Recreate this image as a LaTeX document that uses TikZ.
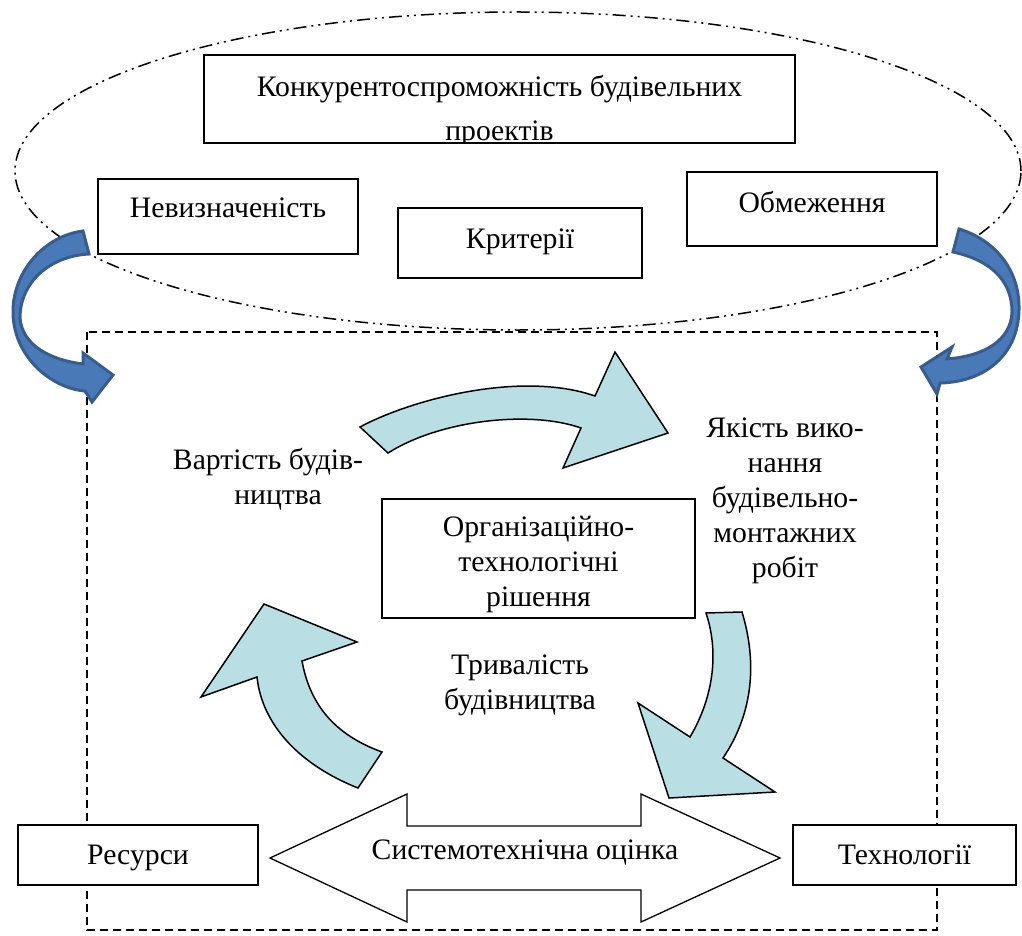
\documentclass[tikz,border=0pt]{standalone}
\usepackage{fontspec}
\setmainfont{Liberation Serif}
\definecolor{aqua}{RGB}{185,223,228}
\definecolor{bluefill}{RGB}{74,121,183}
\definecolor{blueline}{RGB}{56,93,140}
\begin{document}
\begin{tikzpicture}[x=1pt,y=-1pt,
  box/.style={draw, line width=1.5pt, fill=white, inner sep=0pt},
  txt/.style={font=\fontsize{29.7}{35}\selectfont, inner sep=0pt, anchor=base},
  aq/.style={draw, line width=1.5pt, fill=aqua, line join=miter},
  bl/.style={draw=blueline, line width=3pt, fill=bluefill, line join=miter},
  dbl/.style={draw, line width=1.3pt, fill=white, line join=miter}]
\useasboundingbox (0,0) rectangle (1022,936);
% ellipse and dashed frame
\draw[line width=1.5pt, dash pattern=on 13pt off 5pt on 2pt off 5pt on 2pt off 5pt] (518,171) ellipse [x radius=503pt, y radius=159pt];
\draw[line width=1.5pt, dash pattern=on 8pt off 5pt] (87,332) rectangle (937,930);
% top title box (text clipped by the box)
\begin{scope}
\clip (204,55) rectangle (795,143);
\node[txt] (k1) at (499.5,97) {Конкурентоспроможність будівельних};
\node[txt] (k2) at (499.5,141) {проектів};
\end{scope}
\node[draw, line width=1.5pt, inner sep=0pt, minimum width=591pt, minimum height=88pt] (konk) at (499.5,99) {};
% boxes
\node[box, minimum width=260pt, minimum height=75pt] (nev) at (228,216.5) {};
\node[txt] (nevt) at (228,218) {Невизначеність};
\node[box, minimum width=244pt, minimum height=70pt] (krit) at (520,243) {};
\node[txt] (kritt) at (520,248) {Критерії};
\node[box, minimum width=250pt, minimum height=74pt] (obm) at (812,209) {};
\node[txt] (obmt) at (812,212) {Обмеження};
\node[box, minimum width=313pt, minimum height=119pt] (org) at (538.5,558.5) {};
\node[txt] (o1) at (538.5,536) {Організаційно-};
\node[txt] (o2) at (538.5,571) {технологічні};
\node[txt] (o3) at (538.5,606) {рішення};
\node[box, minimum width=240pt, minimum height=60pt] (res) at (138,855) {};
\node[txt] (rest) at (138,864) {Ресурси};
\node[box, minimum width=223pt, minimum height=60pt] (tech) at (904.5,855) {};
\node[txt] (techt) at (904.5,864) {Технології};
% free texts
\node[txt] (v1) at (268,469) {Вартість будів-};
\node[txt] (v2) at (278,504) {ництва};
\node[txt] (j1) at (785,437) {Якість вико-};
\node[txt] (j2) at (785,472) {нання};
\node[txt] (j3) at (785,507) {будівельно-};
\node[txt] (j4) at (785,542) {монтажних};
\node[txt] (j5) at (785,577) {робіт};
\node[txt] (t1) at (520,674) {Тривалість};
\node[txt] (t2) at (520,709) {будівництва};
% double arrow
\draw[dbl] (270,858) -- (407,794) -- (407,826) -- (641,826) -- (641,794) -- (780,858)
  -- (641,922) -- (641,890) -- (407,890) -- (407,922) -- cycle;
\node[txt] (so) at (525,859) {Системотехнічна оцінка};
% light-blue curved arrows
\draw[aq] (360,427) .. controls (410,400) and (520,370) .. (595,396) -- (615,352) -- (668,433)
  -- (563,468) -- (581,428) .. controls (530,410) and (440,420) .. (388,453) -- cycle;
\draw[aq] (264,604) -- (357,642) -- (302,661) .. controls (310,705) and (335,735) .. (382,752)
  -- (358,788) .. controls (300,765) and (262,725) .. (257,677) -- (201,697) -- cycle;
\draw[aq] (706,613) -- (742,612) .. controls (758,665) and (752,715) .. (723,758) -- (775,792)
  -- (669,798) -- (638,703) -- (690,737) .. controls (712,700) and (720,655) .. (706,613) -- cycle;
% dark-blue curved arrows
\draw[bl] (83,231) .. controls (45,236) and (14,270) .. (13,310) .. controls (12,355) and (50,388) .. (85,391)
  -- (92,402) -- (113,375) -- (83,353) -- (83,364) .. controls (50,360) and (22,345) .. (20,318)
  .. controls (20,282) and (50,256) .. (89,254) -- cycle;
\draw[bl] (959,229) .. controls (995,240) and (1020,270) .. (1019,310) .. controls (1018,355) and (985,382) .. (940,383)
  -- (937,394) -- (921,367) -- (952,347) -- (947,359) .. controls (985,356) and (1011,340) .. (1012,312)
  .. controls (1012,280) and (990,260) .. (953,252) -- cycle;
\end{tikzpicture}
\end{document}
